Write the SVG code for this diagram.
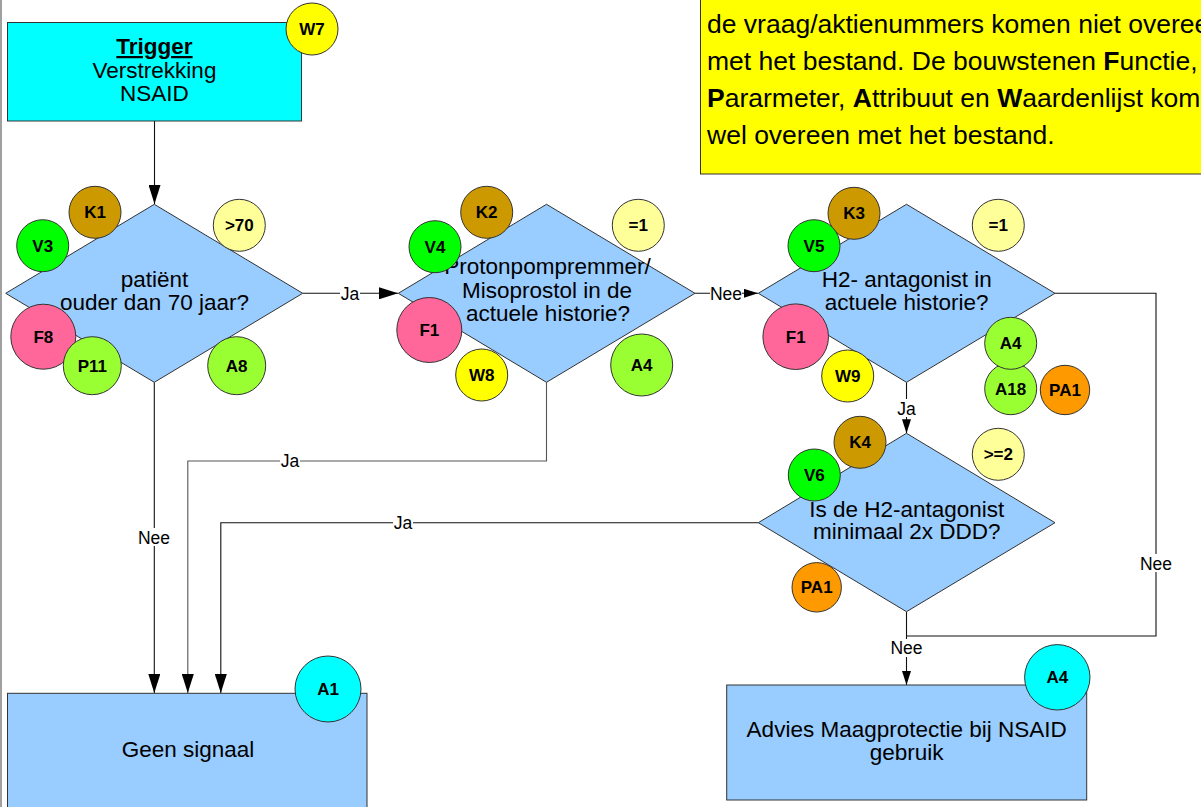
<svg xmlns="http://www.w3.org/2000/svg" width="1201" height="807" viewBox="0 0 1201 807">
<defs>
<marker id="big" markerUnits="userSpaceOnUse" markerWidth="19" markerHeight="12" refX="19" refY="6" orient="auto"><path d="M0,0 L19,6 L0,12 z" fill="#000"/></marker>
<marker id="small" markerUnits="userSpaceOnUse" markerWidth="14" markerHeight="9" refX="14" refY="4.5" orient="auto"><path d="M0,0 L14,4.5 L0,9 z" fill="#000"/></marker>
<style>
text{font-family:"Liberation Sans",Arial,sans-serif;fill:#000}
.main{font-size:22.5px;text-anchor:middle}
.lbl{font-size:17.5px;text-anchor:middle}
.bdg{font-size:17px;font-weight:bold;text-anchor:middle}
.note{font-size:26.5px}
.box{stroke:#333;stroke-width:1}
.dia{fill:#99CCFF;stroke:#333;stroke-width:1}
.c{stroke:#333;stroke-width:1}
.conn{fill:none;stroke:#111;stroke-width:1.1}
.K{fill:#CC9900}.V{fill:#00FF00}.Y{fill:#FFFF99}.F{fill:#FF6699}.G{fill:#99FF33}.W{fill:#FFFF00}.O{fill:#FF9900}.C{fill:#00FFFF}
</style>
</defs>
<rect width="1201" height="807" fill="#fff"/>
<line x1="1" y1="0" x2="1" y2="807" stroke="#808080" stroke-width="1.5"/>

<g id="note">
<rect x="700.5" y="-5" width="520" height="179" fill="#FFFF00" class="box"/>
<text class="note" x="707" y="33">de vraag/aktienummers komen niet overee</text>
<text class="note" x="707" y="70">met het bestand. De bouwstenen <tspan font-weight="bold">F</tspan>unctie,</text>
<text class="note" x="707" y="107"><tspan font-weight="bold">P</tspan>ararmeter, <tspan font-weight="bold">A</tspan>ttribuut en <tspan font-weight="bold">W</tspan>aardenlijst kom</text>
<text class="note" x="707" y="144">wel overeen met het bestand.</text>
</g>

<g id="connectors">
<path class="conn" d="M154.5,121 V204" marker-end="url(#big)"/>
<path class="conn" d="M302.7,293.3 H398" marker-end="url(#big)"/>
<path class="conn" d="M695,293.3 H758" marker-end="url(#small)"/>
<path class="conn" d="M154.3,382.3 V693" marker-end="url(#big)"/>
<path class="conn" d="M546.5,382.3 V461 H187.8 V693" marker-end="url(#big)" style="stroke:#555"/>
<path class="conn" d="M758.3,522.7 H220.8 V693" marker-end="url(#big)"/>
<path class="conn" d="M906.5,382.3 V433.3" marker-end="url(#small)"/>
<path class="conn" d="M1055,293.3 H1156 V636 H906.5"/>
<path class="conn" d="M906.5,611.7 V685" marker-end="url(#small)"/>
<g fill="#fff">
<rect x="340" y="284" width="20" height="18"/>
<rect x="710" y="284" width="32" height="18"/>
<rect x="280" y="452" width="20" height="18"/>
<rect x="393" y="514" width="20" height="18"/>
<rect x="138" y="528" width="32" height="18"/>
<rect x="896" y="399" width="20" height="18"/>
<rect x="1140" y="554" width="32" height="18"/>
<rect x="890" y="639" width="32" height="18"/>
</g>
<text class="lbl" x="350" y="299.5">Ja</text>
<text class="lbl" x="726" y="299.5">Nee</text>
<text class="lbl" x="290" y="467.3">Ja</text>
<text class="lbl" x="403" y="528.8">Ja</text>
<text class="lbl" x="154" y="543.5">Nee</text>
<text class="lbl" x="906.5" y="414.5">Ja</text>
<text class="lbl" x="1156" y="569.5">Nee</text>
<text class="lbl" x="906.5" y="653.5">Nee</text>
</g>

<g id="trigger">
<rect x="7.5" y="22.5" width="294" height="98.5" fill="#00FFFF" class="box"/>
<text class="main" x="154.5" y="54" font-weight="bold" text-decoration="underline">Trigger</text>
<text class="main" x="154.5" y="78">Verstrekking</text>
<text class="main" x="154.5" y="101">NSAID</text>
<circle cx="312" cy="29" r="26" class="W c"/>
<text class="bdg" x="312" y="35">W7</text>
</g>

<g id="d1">
<polygon class="dia" points="154.3,204.3 302.7,293.3 154.3,382.3 5.7,293.3"/>
<text class="main" x="154.5" y="287.3">patiënt</text>
<text class="main" x="154.5" y="310">ouder dan 70 jaar?</text>
<circle cx="95" cy="212.3" r="26" class="K c"/><text class="bdg" x="95" y="218.3">K1</text>
<circle cx="42.7" cy="245.7" r="26" class="V c"/><text class="bdg" x="42.7" y="251.7">V3</text>
<circle cx="239.3" cy="225.3" r="26" class="Y c"/><text class="bdg" x="239.3" y="231.3">&gt;70</text>
<circle cx="43.3" cy="336.7" r="32.5" class="F c"/><text class="bdg" x="43.3" y="342.7">F8</text>
<circle cx="92.3" cy="365.7" r="29" class="G c"/><text class="bdg" x="92.3" y="371.7">P11</text>
<circle cx="236.7" cy="365.7" r="29" class="G c"/><text class="bdg" x="236.7" y="371.7">A8</text>
</g>

<g id="d2">
<polygon class="dia" points="546.5,204.3 695,293.3 546.5,382.3 398.3,293.3"/>
<text class="main" x="547.5" y="274.3">Protonpompremmer/</text>
<text class="main" x="547" y="298">Misoprostol in de</text>
<text class="main" x="548" y="321">actuele historie?</text>
<circle cx="486.7" cy="212.3" r="26" class="K c"/><text class="bdg" x="486.7" y="218.3">K2</text>
<circle cx="435" cy="246.7" r="26" class="V c"/><text class="bdg" x="435" y="252.7">V4</text>
<circle cx="638.3" cy="225.3" r="26" class="Y c"/><text class="bdg" x="638.3" y="231.3">=1</text>
<circle cx="429.3" cy="330" r="32.5" class="F c"/><text class="bdg" x="429.3" y="336">F1</text>
<circle cx="481.7" cy="375" r="26" class="W c"/><text class="bdg" x="481.7" y="381">W8</text>
<circle cx="641.7" cy="365" r="31" class="G c"/><text class="bdg" x="641.7" y="371">A4</text>
</g>

<g id="d3">
<polygon class="dia" points="906.5,204.3 1055,293.3 906.5,382.3 758.3,293.3"/>
<text class="main" x="906.7" y="287.3">H2- antagonist in</text>
<text class="main" x="906.7" y="310">actuele historie?</text>
<circle cx="854" cy="213.3" r="26" class="K c"/><text class="bdg" x="854" y="219.3">K3</text>
<circle cx="814" cy="245.7" r="26" class="V c"/><text class="bdg" x="814" y="251.7">V5</text>
<circle cx="998.3" cy="225.3" r="26" class="Y c"/><text class="bdg" x="998.3" y="231.3">=1</text>
<circle cx="795.7" cy="336.7" r="32.8" class="F c"/><text class="bdg" x="795.7" y="342.7">F1</text>
<circle cx="847.7" cy="376" r="26" class="W c"/><text class="bdg" x="847.7" y="382">W9</text>
<circle cx="1010.7" cy="388.7" r="26" class="G c"/><text class="bdg" x="1010.7" y="394.7">A18</text>
<circle cx="1010.7" cy="343.3" r="26" class="G c"/><text class="bdg" x="1010.7" y="349.3">A4</text>
<circle cx="1065" cy="390" r="24.7" class="O c"/><text class="bdg" x="1065" y="396">PA1</text>
</g>

<g id="d4">
<polygon class="dia" points="906.5,433.3 1055,522.7 906.5,611.7 758.3,522.7"/>
<text class="main" x="906.7" y="516.7">Is de H2-antagonist</text>
<text class="main" x="906.7" y="539.3">minimaal 2x DDD?</text>
<circle cx="860" cy="442.3" r="26" class="K c"/><text class="bdg" x="860" y="448.3">K4</text>
<circle cx="814.3" cy="475" r="26" class="V c"/><text class="bdg" x="814.3" y="481">V6</text>
<circle cx="998.3" cy="454.3" r="26" class="Y c"/><text class="bdg" x="998.3" y="460.3">&gt;=2</text>
<circle cx="816.7" cy="587.3" r="24.7" class="O c"/><text class="bdg" x="816.7" y="593.3">PA1</text>
</g>

<g id="geen">
<rect x="7.5" y="693.3" width="359.5" height="130" fill="#99CCFF" class="box"/>
<text class="main" x="188" y="756.5">Geen signaal</text>
<circle cx="328" cy="689" r="33" class="C c"/><text class="bdg" x="328" y="695">A1</text>
</g>

<g id="advies">
<rect x="726.7" y="685" width="360" height="115" fill="#99CCFF" class="box"/>
<text class="main" x="906.7" y="736.5">Advies Maagprotectie bij NSAID</text>
<text class="main" x="906.7" y="759.5">gebruik</text>
<circle cx="1057.3" cy="677.3" r="32.7" class="C c"/><text class="bdg" x="1057.3" y="683.3">A4</text>
</g>
</svg>
